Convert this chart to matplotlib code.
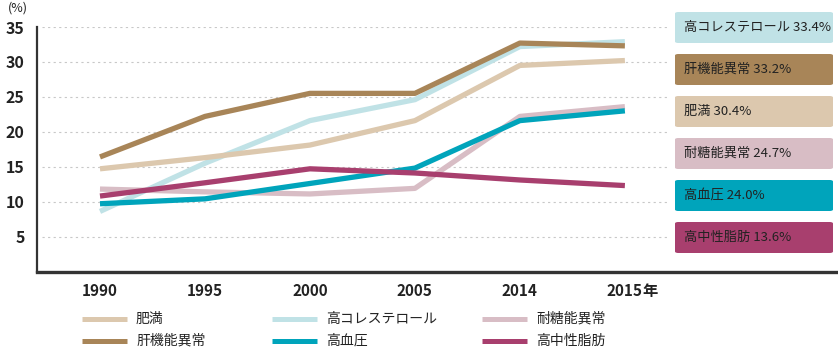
import matplotlib.pyplot as plt
from matplotlib.patches import FancyBboxPatch
from matplotlib.lines import Line2D

plt.rcParams['font.family'] = ['Noto Sans CJK JP', 'DejaVu Sans']

years = ['1990', '1995', '2000', '2005', '2014', '2015']
names = ['肥満', '肝機能異常', '高コレステロール', '高血圧', '耐糖能異常', '高中性脂肪']
colors = ['#dcc8ae', '#a88558', '#c0e2e6', '#00a4bb', '#d8bdc5', '#a83f6e']

obesity = [14.7, 16.3, 18.1, 21.6, 29.5, 30.2]
liver = [16.4, 22.2, 25.5, 25.5, 32.7, 32.3]
chol = [8.6, 15.5, 21.6, 24.6, 32.2, 32.9]
bp = [9.7, 10.4, 12.6, 14.8, 21.6, 23.0]
glucose = [11.8, 11.4, 11.1, 11.9, 22.2, 23.6]
tg = [10.8, 12.7, 14.7, 14.1, 13.1, 12.3]
series = [obesity, liver, chol, bp, glucose, tg]

# right side boxes (top to bottom)
box_names = ['高コレステロール', '肝機能異常', '肥満', '耐糖能異常', '高血圧', '高中性脂肪']
box_vals = ['33.4%', '33.2%', '30.4%', '24.7%', '24.0%', '13.6%']

W, H = 838, 349
fig = plt.figure(figsize=(W / 100, H / 100), dpi=100)
ax = fig.add_axes([37 / W, 1 - 271.5 / H, (W - 37) / W, (271.5 - 27) / H])

x = list(range(len(years)))
draw_order = [2, 0, 4, 1, 3, 5]
for i in draw_order:
    ax.plot(x, series[i], color=colors[i], lw=3.8, solid_capstyle='butt', zorder=3)

ax.set_ylim(0, 35)
ax.set_xlim(-0.6, 7.03)
ax.hlines(range(5, 40, 5), -0.55, 5.41, colors='#c8c8c8', lw=0.8,
          linestyles=(0, (2, 3)), zorder=1)
ax.set_yticks(range(5, 40, 5))
ax.set_yticklabels([str(v) for v in range(5, 40, 5)], fontsize=11.5, color='#222')
ax.set_xticks(x)
ax.set_xticklabels(years, fontsize=11, color='#222', fontweight='bold')
ax.text(x[-1] + 0.17, -0.045, '年', transform=ax.get_xaxis_transform(),
        fontsize=11, color='#222', va='top', ha='left', fontweight='bold')
ax.tick_params(axis='y', length=0, pad=9)
ax.tick_params(axis='x', length=0, pad=8)
for lbl in ax.get_yticklabels():
    lbl.set_fontweight('bold')
ax.spines['top'].set_visible(False)
ax.spines['right'].set_visible(False)
ax.spines['left'].set_color('#333')
ax.spines['left'].set_linewidth(1.6)
ax.spines['bottom'].set_color('#333')
ax.spines['bottom'].set_linewidth(2.4)
fig.text(8 / W, 1 - 8 / H, '(%)', fontsize=9, color='#222', va='center', ha='left')

# value boxes on the right
for k, (nm, val) in enumerate(zip(box_names, box_vals)):
    c = colors[names.index(nm)]
    top = 12 + 42 * k
    fig.patches.append(FancyBboxPatch((675 / W, 1 - (top + 31) / H), 158 / W, 31 / H,
                                      boxstyle='round,pad=0,rounding_size=0.004',
                                      transform=fig.transFigure, facecolor=c,
                                      edgecolor='none'))
    fig.text(684 / W, 1 - (top + 15.5) / H, nm + ' ' + val, fontsize=9.5,
             color='#222', va='center', ha='left')

# legend drawn by hand on a grid
cols_x = [82, 272, 482]
rows_y = [318.5, 341]
for j, nm in enumerate(names):
    cx = cols_x[j // 2]
    ry = rows_y[j % 2]
    fig.lines.append(Line2D([cx / W, (cx + 45) / W], [1 - ry / H, 1 - ry / H],
                            transform=fig.transFigure, color=colors[j], lw=3.6,
                            solid_capstyle='butt'))
    fig.text((cx + 54) / W, 1 - ry / H, nm, fontsize=10, color='#222',
             va='center', ha='left')

fig.savefig('out.png', dpi=100)
